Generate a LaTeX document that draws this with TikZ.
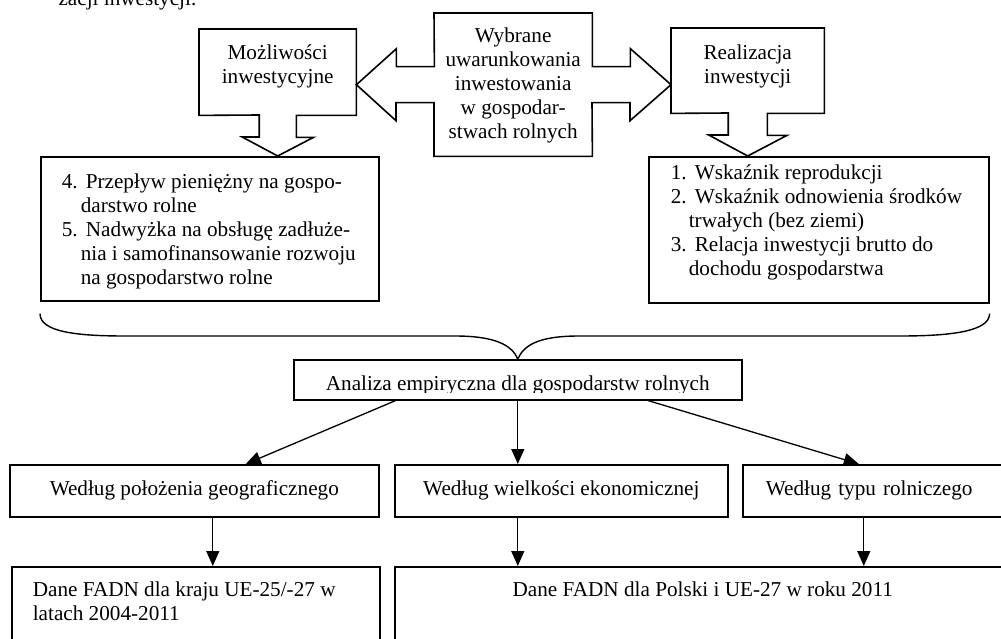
\documentclass[tikz,border=0pt]{standalone}
\usepackage{fontspec}
\setmainfont{Liberation Serif}
\usetikzlibrary{arrows.meta,positioning,calc}

\begin{document}
\begin{tikzpicture}[x = 1pt, y = -1pt,
  every node/.style = {font=\fontsize{21.2pt}{24pt}\selectfont},
  prostokat/.style = {draw, line width=1.6pt, inner sep=0pt},
  tekstramka/.style n args = {4}{inner sep=0pt, anchor=north west,
    execute at begin node={\begin{minipage}[c][#1][t]{#2}#4\vspace*{#3}\strut},
    execute at end node={\end{minipage}}},
  ramka/.style n args = {4}{tekstramka={#1}{#2}{#3}{#4}, draw, line width=1.6pt},
  obrys/.style = {line width=1.6pt},
  klamra/.style = {line width=1.4pt},
  strzalka/.style = {-{Triangle[length=15pt, width=13pt]}, line width=1.3pt}]
\path[use as bounding box] (0,0) rectangle (1001,639);
\clip (0,0) rectangle (1001,639);

\node[anchor=base west] (naglowek) at (55,6) {zacji inwestycji.};

\node[tekstramka={86pt}{157pt}{14pt}{\centering}] (mozl) at (199,29) {Możliwości\\inwestycyjne};
\node[tekstramka={143pt}{158pt}{13pt}{\centering}] (wybrane) at (434,13) {Wybrane\\uwarunkowania\\inwestowania\\w gospodar-\\stwach rolnych};
\node[tekstramka={85pt}{153pt}{15pt}{\centering}] (realiz) at (671,28) {Realizacja\\inwestycji};

\node[ramka={144pt}{338pt}{15pt}{\raggedright\leftskip=21pt}] (przeplyw) at (40,156) {%
\makebox[24pt][l]{4.}Przepływ pieniężny na gospo-\\
\hspace*{19pt}darstwo rolne\\
\makebox[24pt][l]{5.}Nadwyżka na obsługę zadłuże-\\
\hspace*{19pt}nia i samofinansowanie rozwoju\\
\hspace*{19pt}na gospodarstwo rolne};
\node[ramka={146pt}{340pt}{6pt}{\raggedright\leftskip=22pt}] (wskazniki) at (648,156) {%
\makebox[24pt][l]{1.}Wskaźnik reprodukcji\\
\makebox[24pt][l]{2.}Wskaźnik odnowienia środków\\
\hspace*{18pt}trwałych (bez ziemi)\\
\makebox[24pt][l]{3.}Relacja inwestycji brutto do\\
\hspace*{18pt}dochodu gospodarstwa};

\draw[obrys] (mozl.north west) -- (mozl.north east) -- (mozl.south east) -- ++(-60,0) -- ++(0,22) -- ++(17,0)
  -- (mozl.south |- przeplyw.north) -- ++(-35.5,-19) -- ++(17,0) -- ++(0,-22) -- (mozl.south west) -- cycle;
\draw[obrys] (realiz.north west) -- (realiz.north east) -- (realiz.south east) -- ++(-57,0) -- ++(0,22) -- ++(19.5,0)
  -- (realiz.south |- wskazniki.north) -- ++(-39,-21) -- ++(19.5,0) -- ++(0,-22) -- (realiz.south west) -- cycle;
\draw[obrys] (wybrane.north west) -- (wybrane.north east) -- ($(wybrane.east)+(0,-18)$) -- ++(38,0) -- ++(0,-18)
  -- (wybrane.east -| realiz.west) -- ++(-41,36) -- ++(0,-18) -- ++(-38,0) -- (wybrane.south east)
  -- (wybrane.south west) -- ($(wybrane.west)+(0,18)$) -- ++(-38,0) -- ++(0,18)
  -- (wybrane.west -| mozl.east) -- ++(40,-36) -- ++(0,18) -- ++(38,0) -- cycle;

\node[prostokat, minimum width=448pt, minimum height=40pt, anchor=north west,
  path picture={
    \clip ($(path picture bounding box.south west)+(0,-7)$) rectangle (path picture bounding box.north east);
    \node[anchor=base, draw=none, inner sep=0pt, minimum width=0pt, minimum height=0pt] (analizaTekst)
      at ($(path picture bounding box.south)+(0,-9)$) {Analiza empiryczna dla gospodarstw rolnych};
  }] (analiza) at (293,359) {};

\coordinate (klamraL) at ($(przeplyw.south west)+(0,12)$);
\coordinate (klamraR) at ($(wskazniki.south east)+(0,10)$);
\draw[klamra] (klamraL) .. controls +(0,18) and +(-50,0) .. (125,336) -- (455,336)
  .. controls +(40,0) and +(-6,-14) .. (analiza.north) .. controls +(6,-14) and +(-40,0) .. (579,336)
  -- (900,336) .. controls +(50,0) and +(0,18) .. (klamraR);

\node[prostokat, minimum width=369pt, minimum height=52pt, anchor=north west] (wedlugGeo) at (9,464) {Według położenia geograficznego};
\node[prostokat, minimum width=333pt, minimum height=52pt, anchor=north west] (wedlugEko) at (394,464) {Według wielkości ekonomicznej};
\node[prostokat, minimum height=52pt, text width=222pt, align=left, inner xsep=23pt, anchor=north west] (wedlugTyp) at (742,464) {Według typu rolniczego};

\node[ramka={90pt}{368pt}{13pt}{\raggedright\leftskip=21pt}] (daneKraj) at (11,566) {Dane FADN dla kraju UE-25/-27 w\\latach 2004-2011};
\node[ramka={90pt}{616pt}{13pt}{\centering}] (daneUE) at (394,566) {Dane FADN dla Polski i UE-27 w roku 2011};

\coordinate (geoStart) at ($(analiza.south west)!0.228!(analiza.south east)$);
\coordinate (geoKoniec) at ($(wedlugGeo.north)+(51.5,0)$);
\draw[strzalka] (geoStart) -- (geoKoniec);
\draw[strzalka] (analiza.south) -- (analiza.south |- wedlugEko.north);
\coordinate (typStart) at ($(analiza.south west)!0.79!(analiza.south east)$);
\coordinate (typKoniec) at ($(wedlugTyp.north)+(-18,0)$);
\draw[strzalka] (typStart) -- (typKoniec);

\coordinate (geoDol) at ($(wedlugGeo.south)+(18.5,0)$);
\draw[strzalka] (geoDol) -- (geoDol |- daneKraj.north);
\draw[strzalka] (analiza.south |- wedlugEko.south) -- (analiza.south |- daneUE.north);
\coordinate (typDol) at ($(wedlugTyp.south)+(-13,0)$);
\draw[strzalka] (typDol) -- (typDol |- daneUE.north);

\end{tikzpicture}
\end{document}
